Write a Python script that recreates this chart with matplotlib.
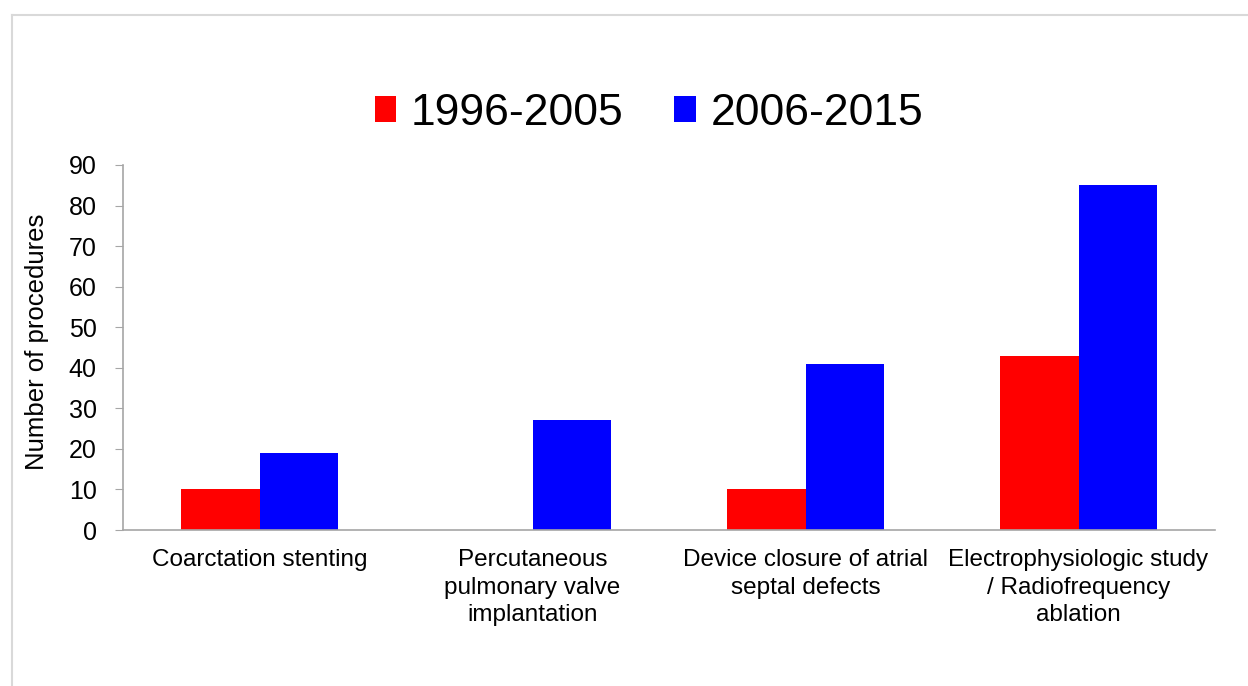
"""Procedures per decade, grouped bar chart."""

import matplotlib
matplotlib.use("Agg")
import matplotlib.pyplot as plt
from matplotlib.lines import Line2D
import numpy as np

categories = [
    "Coarctation stenting",
    "Percutaneous\npulmonary valve\nimplantation",
    "Device closure of atrial\nseptal defects",
    "Electrophysiologic study\n/ Radiofrequency\nablation",
]
period_a = [10, 0, 10, 43]
period_b = [19, 27, 41, 85]
series_names = ["1996-2005", "2006-2015"]
y_ticks = list(range(0, 100, 10))

plt.rcParams["font.family"] = ["Liberation Sans", "DejaVu Sans"]


def main() -> None:
    fig = plt.figure(figsize=(12.48, 6.86), dpi=100)
    ax = fig.add_axes([0.0986, 0.2274, 0.875, 0.5321])

    x = np.arange(len(categories))
    width = 0.286
    ax.bar(x - width / 2, period_a, width, color="#ff0000", label=series_names[0])
    ax.bar(x + width / 2, period_b, width, color="#0000ff", label=series_names[1])

    ax.set_xlim(-0.5, len(categories) - 0.5)
    ax.set_ylim(0, 90)
    ax.set_yticks(y_ticks)
    ax.tick_params(axis="y", labelsize=18, length=6, color="#a6a6a6", pad=13)
    ax.set_xticks(x)
    ax.set_xticklabels(categories, fontsize=17.5, linespacing=1.3)
    ax.tick_params(axis="x", length=0, pad=14)
    ax.set_ylabel("Number of procedures", fontsize=18.5)
    ax.yaxis.set_label_coords(-0.068, 0.515)

    for side in ("top", "right"):
        ax.spines[side].set_visible(False)
    for side in ("left", "bottom"):
        ax.spines[side].set_color("#a6a6a6")
        ax.spines[side].set_linewidth(1.2)

    fig.legend(
        loc="center",
        bbox_to_anchor=(0.52, 0.835),
        ncol=2,
        frameon=False,
        fontsize=32,
        handlelength=0.48,
        handleheight=0.5,
        handletextpad=0.33,
        columnspacing=1.14,
    )

    # light frame around the picture
    fig.add_artist(Line2D([12 / 1248, 1], [1 - 15 / 686, 1 - 15 / 686], color="#d9d9d9", lw=1.5))
    fig.add_artist(Line2D([12 / 1248, 12 / 1248], [0, 1 - 15 / 686], color="#d9d9d9", lw=1.5))

    fig.savefig("out.png", dpi=100)
    plt.close(fig)


if __name__ == "__main__":
    main()
